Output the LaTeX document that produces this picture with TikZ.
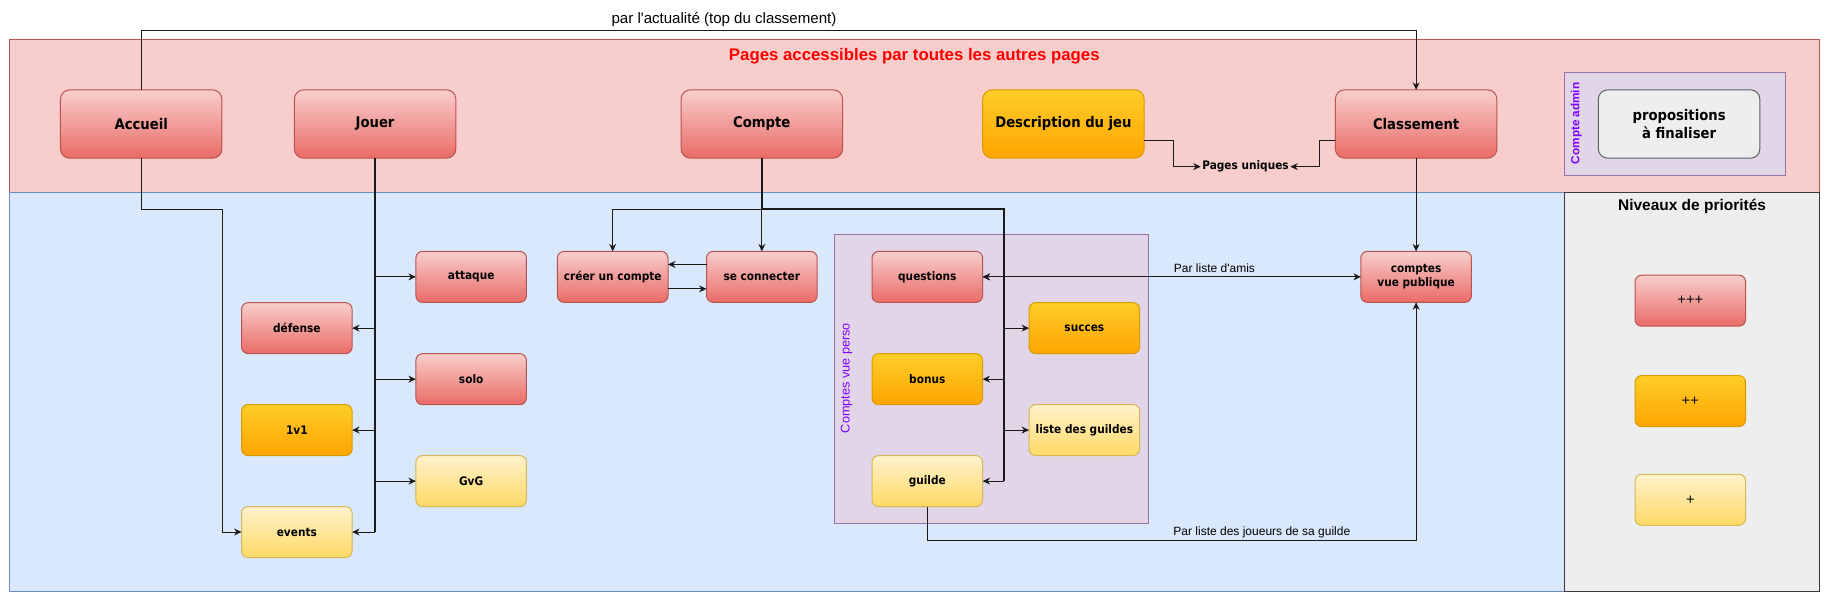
\documentclass[tikz,border=0pt]{standalone}
\usepackage{fontspec}
\setmainfont{Liberation Sans}
\newfontfamily\cond{DejaVu Sans Condensed}
\usetikzlibrary{arrows.meta}
\definecolor{redtop}{HTML}{F8CECC}
\definecolor{redbot}{HTML}{EA6B66}
\definecolor{redline}{HTML}{B85450}
\definecolor{orgtop}{HTML}{FFCD28}
\definecolor{orgbot}{HTML}{FFA500}
\definecolor{orgline}{HTML}{D79B00}
\definecolor{yeltop}{HTML}{FFF2CC}
\definecolor{yelbot}{HTML}{FFD966}
\definecolor{yelline}{HTML}{D6B656}
\definecolor{pinkbg}{HTML}{F8CECC}
\definecolor{bluebg}{HTML}{DAE8FC}
\definecolor{blueline}{HTML}{6C8EBF}
\definecolor{purbg}{HTML}{E1D5E7}
\definecolor{purline}{HTML}{9673A6}
\definecolor{graybg}{HTML}{EEEEEE}
\definecolor{grayline}{HTML}{36393D}
\definecolor{violettxt}{HTML}{7F00FF}
\definecolor{titlered}{HTML}{FF0000}
\definecolor{linecol}{HTML}{1A1A1A}
\tikzset{
  boxbase/.style={inner sep=0pt, outer sep=0pt, align=center, text=black},
  bigbox/.style={boxbase, rounded corners=7pt, minimum width=138.3*0.8758pt, minimum height=58.5*0.8758pt,
    font=\cond\bfseries\fontsize{11}{13.7}\selectfont},
  smallbox/.style={boxbase, rounded corners=5pt, minimum width=94.7*0.8758pt, minimum height=43.7*0.8758pt,
    font=\cond\bfseries\fontsize{8.8}{10.4}\selectfont},
  prioA/.style={top color=redtop, bottom color=redbot, draw=redline, line width=0.75pt},
  prioB/.style={top color=orgtop, bottom color=orgbot, draw=orgline, line width=0.75pt},
  prioC/.style={top color=yeltop, bottom color=yelbot, draw=yelline, line width=0.75pt},
  grayfill/.style={fill=graybg, draw=grayline!80, line width=0.75pt},
  conn/.style={draw=linecol, line width=0.75pt},
  trunk/.style={draw=linecol, line width=1.2pt},
  arr/.style={conn, -{Stealth[length=5.6pt,width=5.2pt,inset=1.8pt]}},
  darr/.style={conn, {Stealth[length=5.6pt,width=5.2pt,inset=1.8pt]}-{Stealth[length=5.6pt,width=5.2pt,inset=1.8pt]}},
  edgelbl/.style={inner sep=1pt, font=\fontsize{9}{11}\selectfont},
  toplbl/.style={inner sep=1pt, font=\fontsize{11.3}{13}\selectfont},
  heading/.style={inner sep=1pt, font=\bfseries\fontsize{11.6}{13}\selectfont},
  prio/.style={font=\fontsize{11}{13}\selectfont},
}
\begin{document}
\begin{tikzpicture}[x=0.8758pt,y=-0.8758pt]
\useasboundingbox (0,0) rectangle (1568,515.5);
% backgrounds
\path[fill=pinkbg, draw=redline, line width=0.75pt] (8,33.5) rectangle (1558.5,164.5);
\path[fill=bluebg, draw=blueline, line width=0.75pt] (8,164.5) rectangle (1340,506.5);
\path[fill=graybg, draw=grayline, line width=0.75pt] (1340,164.5) rectangle (1558.5,506.5);
\path[fill=purbg, draw=purline, line width=0.75pt] (714.3,200.6) rectangle (983.2,448);
\path[fill=purbg, draw=purline, line width=0.75pt] (1339.6,62.2) rectangle (1529.4,150.4);

% texts
\node[heading, text=titlered, font=\bfseries\fontsize{12.6}{14}\selectfont] (title) at (783,47.7) {Pages accessibles par toutes les autres pages};
\node[heading] (niv) at (1449,177) {Niveaux de priorités};
\node[rotate=90, text=violettxt, inner sep=0pt, font=\fontsize{9.5}{11}\selectfont] (persolbl) at (725,323.8) {Comptes vue perso};
\node[rotate=90, text=violettxt, inner sep=0pt, font=\bfseries\fontsize{8.8}{10}\selectfont] (adminlbl) at (1350,105.6) {Compte admin};
\node[toplbl] (actu) at (620,16.3) {par l\textquotesingle actualité (top du classement)};
\node[inner sep=1pt, font=\cond\bfseries\fontsize{8.8}{10}\selectfont] (uniq) at (1066.6,142.7) {Pages uniques};
\node[edgelbl] (amis) at (1040,230) {Par liste d\textquotesingle amis};
\node[edgelbl] (joueurs) at (1080.6,456) {Par liste des joueurs de sa guilde};

% top row
\node[bigbox, prioA] (accueil) at (120.9,106.2) {Accueil};
\node[bigbox, prioA] (jouer) at (321.2,106.2) {Jouer};
\node[bigbox, prioA] (compte) at (652.4,106.2) {Compte};
\node[bigbox, prioB] (desc) at (910.7,106.2) {Description du jeu};
\node[bigbox, prioA] (classement) at (1212.7,106.2) {Classement};
\node[bigbox, grayfill] (propo) at (1437.9,106.2) {propositions\\à finaliser};

% jouer column
\node[smallbox, prioA] (attaque) at (403.5,237.1) {attaque};
\node[smallbox, prioA] (defense) at (254.2,281) {défense};
\node[smallbox, prioA] (solo) at (403.5,324.7) {solo};
\node[smallbox, prioB] (unvun) at (254.2,368.3) {1v1};
\node[smallbox, prioC] (gvg) at (403.5,412) {GvG};
\node[smallbox, prioC] (events) at (254.2,455.6) {events};

% compte
\node[smallbox, prioA] (creer) at (524.7,237.1) {créer un compte};
\node[smallbox, prioA] (seco) at (652.4,237.1) {se connecter};
\node[smallbox, prioA] (questions) at (794.1,237.1) {questions};
\node[smallbox, prioB] (succes) at (928.6,281) {succes};
\node[smallbox, prioB] (bonus) at (794.1,324.7) {bonus};
\node[smallbox, prioC] (liste) at (928.6,368.3) {liste des guildes};
\node[smallbox, prioC] (guilde) at (794.1,412) {guilde};
\node[smallbox, prioA] (comptes) at (1212.7,237.1) {comptes\\vue publique};

% priorities legend
\node[smallbox, prioA, prio] (p3) at (1447.5,257.5) {+++};
\node[smallbox, prioB, prio] (p2) at (1447.5,343.5) {++};
\node[smallbox, prioC, prio] (p1) at (1447.5,428) {+};

% coordinates
\coordinate (topy) at (0,26.3);
\coordinate (routey) at (0,179.1);
\coordinate (ctrunk) at (859.5,179.1);
\coordinate (jtrunk) at (321.2,0);
\coordinate (accx) at (190.3,0);
\coordinate (guildy) at (0,462.5);

% connectors
\draw[arr] (accueil.north) -- (accueil.north |- topy) -| (classement.north);
\draw[arr] (accueil.south) |- (accx |- routey) |- (events.west);

\draw[trunk] (jouer.south) -- (jtrunk |- events.east);
\draw[arr] (jtrunk |- attaque.west) -- (attaque.west);
\draw[arr] (jtrunk |- defense.east) -- (defense.east);
\draw[arr] (jtrunk |- solo.west) -- (solo.west);
\draw[arr] (jtrunk |- unvun.east) -- (unvun.east);
\draw[arr] (jtrunk |- gvg.west) -- (gvg.west);
\draw[arr] (jtrunk |- events.east) -- (events.east);

\draw[arr] ([yshift=-12.4pt]desc.east) -| (1005,142.7) -- (uniq.west);
\draw[arr] ([yshift=-12.4pt]classement.west) -| (1129.7,142.7) -- (uniq.east);
\draw[arr] (classement.south) -- (comptes.north);

\draw[trunk, line width=1.4pt] (compte.south) |- (ctrunk) -- (ctrunk |- guilde.east);
\draw[arr] (compte.south |- routey) -| (creer.north);
\draw[arr] (compte.south |- routey) -- (seco.north);
\draw[arr] ([yshift=9.3pt]seco.west) -- ([yshift=9.3pt]creer.east);
\draw[arr] ([yshift=-9pt]creer.east) -- ([yshift=-9pt]seco.west);

\draw[arr] (ctrunk |- questions.east) -- (questions.east);
\draw[arr] (ctrunk |- succes.west) -- (succes.west);
\draw[arr] (ctrunk |- bonus.east) -- (bonus.east);
\draw[arr] (ctrunk |- liste.west) -- (liste.west);
\draw[arr] (ctrunk |- guilde.east) -- (guilde.east);

\draw[darr] (questions.east) -- (comptes.west);
\draw[arr] (guilde.south) |- (comptes.south |- guildy) -- (comptes.south);
\end{tikzpicture}
\end{document}
